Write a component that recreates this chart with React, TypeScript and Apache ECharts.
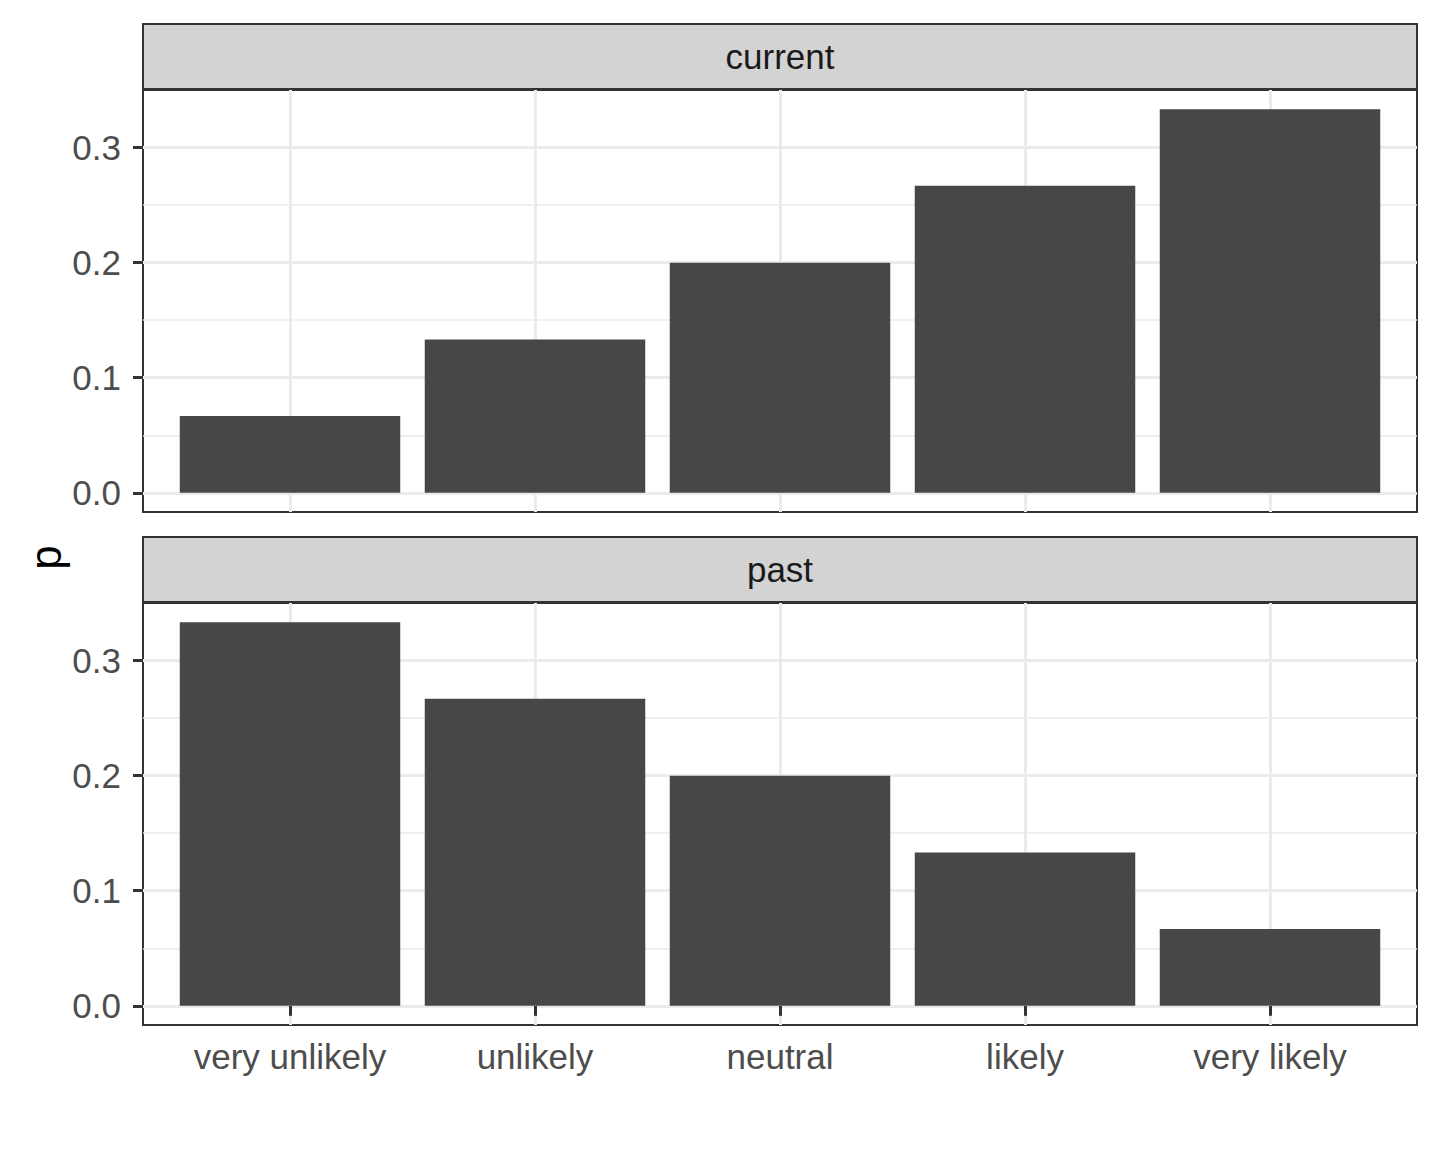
import React, { useEffect, useRef } from "react";
import * as echarts from "echarts";

const categories = ["very unlikely", "unlikely", "neutral", "likely", "very likely"];
const panelNames = ["current", "past"];
const currentValues = [0.0667, 0.1333, 0.2, 0.2667, 0.3333];
const pastValues = [0.3333, 0.2667, 0.2, 0.1333, 0.0667];
const yMajorTicks = [0, 0.1, 0.2, 0.3];
const yMinorTicks = [0.05, 0.15, 0.25];
const categoryPositions = [1, 2, 3, 4, 5];
const yAxisTitle = "p";

const W = 1440;
const H = 1152;
const PANEL_LEFT = 143;
const PANEL_RIGHT = 1417;
const PANEL_TOPS = [90, 603];
const PANEL_H = 422;
const STRIP_H = 65;
const STRIP_GAP = 1;
const FONT = "'Liberation Sans', Arial, Helvetica, sans-serif";
const TEXT_SIZE = 35;
const X_MIN = 0.4;
const X_MAX = 5.6;
const Y_MIN = -0.016667;
const Y_MAX = 0.35;

export default function App() {
  const ref = useRef<HTMLDivElement>(null);
  useEffect(() => {
    if (!ref.current) return;
    const chart = echarts.init(ref.current, null, { renderer: "svg" });
    const panelW = PANEL_RIGHT - PANEL_LEFT;
    const barW = (panelW / (X_MAX - X_MIN)) * 0.9;
    const seriesValues = [currentValues, pastValues];

    const grids = PANEL_TOPS.map((top) => ({
      left: PANEL_LEFT,
      top,
      width: panelW,
      height: PANEL_H,
      show: true,
      backgroundColor: "#FFFFFF",
      borderColor: "#333333",
      borderWidth: 2,
      containLabel: false,
    }));

    const xAxes = PANEL_TOPS.map((_, i) => ({
      type: "value",
      gridIndex: i,
      min: X_MIN,
      max: X_MAX,
      axisLine: { show: false },
      axisTick: {
        show: i === 1,
        customValues: categoryPositions,
        length: 10,
        lineStyle: { color: "#333333", width: 3 },
      },
      axisLabel: {
        show: i === 1,
        customValues: categoryPositions,
        formatter: (v: number) => categories[Math.round(v) - 1] ?? "",
        fontSize: TEXT_SIZE,
        color: "#4D4D4D",
        fontFamily: FONT,
        margin: 14,
      },
      splitLine: { show: true, lineStyle: { color: "#EBEBEB", width: 3 } },
    }));

    const yAxes: any[] = [];
    PANEL_TOPS.forEach((_, i) => {
      yAxes.push({
        type: "value",
        gridIndex: i,
        min: Y_MIN,
        max: Y_MAX,
        axisLine: { show: false },
        axisTick: {
          show: true,
          customValues: yMajorTicks,
          length: 10,
          lineStyle: { color: "#333333", width: 3 },
        },
        axisLabel: {
          show: true,
          customValues: yMajorTicks,
          formatter: (v: number) => v.toFixed(1),
          fontSize: TEXT_SIZE,
          color: "#4D4D4D",
          fontFamily: FONT,
          margin: 22,
        },
        splitLine: { show: true, lineStyle: { color: "#EBEBEB", width: 3 } },
      });
      yAxes.push({
        type: "value",
        gridIndex: i,
        min: Y_MIN,
        max: Y_MAX,
        position: "right",
        axisLine: { show: false },
        axisTick: { show: false, customValues: yMinorTicks },
        axisLabel: { show: false, customValues: yMinorTicks },
        splitLine: { show: true, lineStyle: { color: "#EBEBEB", width: 1.5 } },
      });
    });

    const series = seriesValues.map((vals, i) => ({
      type: "bar",
      xAxisIndex: i,
      yAxisIndex: i * 2,
      barWidth: barW,
      itemStyle: { color: "#474747" },
      data: vals.map((v, j) => [categoryPositions[j], v]),
      silent: true,
    }));

    const graphics: any[] = [];
    PANEL_TOPS.forEach((top, i) => {
      const sy = top - STRIP_GAP - STRIP_H;
      graphics.push({
        type: "rect",
        shape: { x: PANEL_LEFT, y: sy, width: panelW, height: STRIP_H },
        style: { fill: "#D3D3D3", stroke: "#333333", lineWidth: 2 },
        z: 10,
      });
      graphics.push({
        type: "text",
        x: (PANEL_LEFT + PANEL_RIGHT) / 2,
        y: sy + STRIP_H / 2,
        style: {
          text: panelNames[i],
          fontSize: TEXT_SIZE,
          fill: "#1A1A1A",
          fontFamily: FONT,
          align: "center",
          verticalAlign: "middle",
        },
        z: 11,
      });
    });
    graphics.push({
      type: "text",
      x: 45,
      y: (PANEL_TOPS[0] + PANEL_TOPS[1] + PANEL_H) / 2,
      rotation: Math.PI / 2,
      style: {
        text: yAxisTitle,
        fontSize: 44,
        fill: "#000000",
        fontFamily: FONT,
        align: "center",
        verticalAlign: "middle",
      },
      z: 11,
    });

    chart.setOption({
      animation: false,
      backgroundColor: "#FFFFFF",
      grid: grids,
      xAxis: xAxes,
      yAxis: yAxes,
      series,
      graphic: graphics,
    });
    return () => chart.dispose();
  }, []);
  return (
    <div
      ref={ref}
      style={{ position: "absolute", left: 0, top: 0, width: W, height: H }}
    />
  );
}
